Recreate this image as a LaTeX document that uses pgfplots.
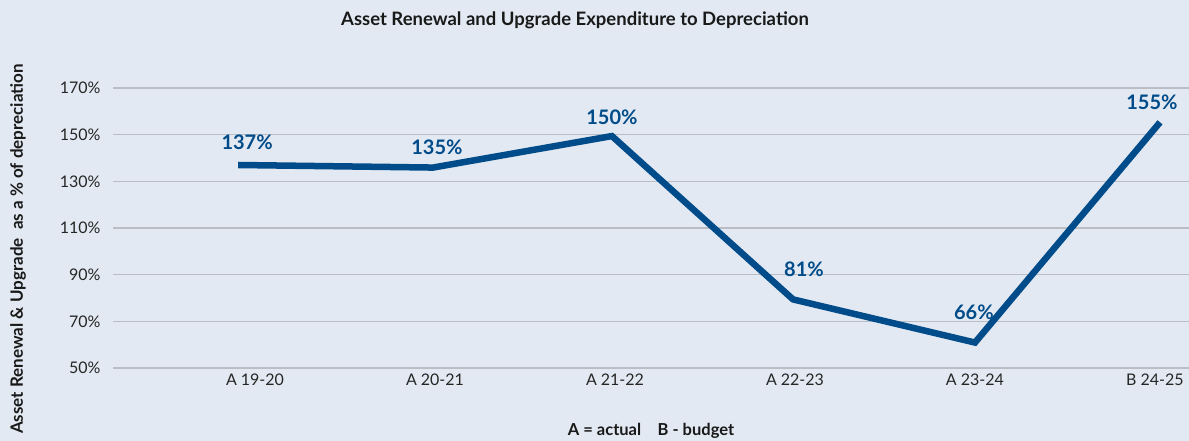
\documentclass[border=0pt]{standalone}
\usepackage{pgfplots}
\pgfplotsset{compat=1.18}
\usepackage{fontspec}
\setmainfont{Lato}
\definecolor{bg}{RGB}{227,233,242}
\definecolor{ln}{RGB}{0,75,137}
\definecolor{gr}{RGB}{186,189,196}
\begin{document}
\begin{tikzpicture}[x=1pt,y=1pt]
\useasboundingbox (0,0) rectangle (1189,441);
\fill[bg] (0,0) rectangle (1189,441);
\begin{axis}[
  at={(113pt,73pt)}, anchor=south west,
  scale only axis, width=1076pt, height=280pt,
  xmin=-0.789, xmax=5.189, ymin=50, ymax=170,
  axis line style={draw=none},
  xtick={0,1,2,3,4,5},
  xticklabels={A 19-20, A 20-21, A 21-22, A 22-23, A 23-24, B 24-25},
  ytick={50,70,90,110,130,150,170},
  yticklabels={50\%,70\%,90\%,110\%,130\%,150\%,170\%},
  major tick length=0pt,
  ymajorgrids, grid style={gr, line width=1.3pt},
  tick label style={font=\fontsize{16}{18}\selectfont, text=black!85},
  yticklabel style={xshift=-9pt},
  xticklabel style={yshift=-2pt},
  clip=false,
]
\addplot[ln, line width=6.5pt, line join=miter, line cap=butt] coordinates {
  (-0.094,137.0) (0.989,135.9) (1.983,149.4) (2.989,79.4) (4.0,60.9) (5.028,155.3)
};
\addplot[draw=none, mark=none, nodes near coords, point meta=explicit symbolic,
  every node near coord/.style={anchor=center, text=ln, font=\fontsize{20}{23}\selectfont\bfseries}]
  coordinates {
  (-0.044,146.9) [137\%]
  (1.011,144.5) [135\%]
  (1.983,157.4) [150\%]
  (3.05,92.4) [81\%]
  (3.994,73.8) [66\%]
  (4.983,163.8) [155\%]
};
\end{axis}
\node[font=\fontsize{18.5}{22}\selectfont\bfseries, text=black!90] at (575,421) {Asset Renewal and Upgrade Expenditure to Depreciation};
\node[font=\fontsize{16.5}{19}\selectfont\bfseries, text=black!90] at (651,10) {A = actual\quad B - budget};
\node[rotate=90, font=\fontsize{17}{20}\selectfont\bfseries, text=black!90] at (18,192) {Asset Renewal \& Upgrade\ \ as a \% of depreciation};
\end{tikzpicture}
\end{document}
